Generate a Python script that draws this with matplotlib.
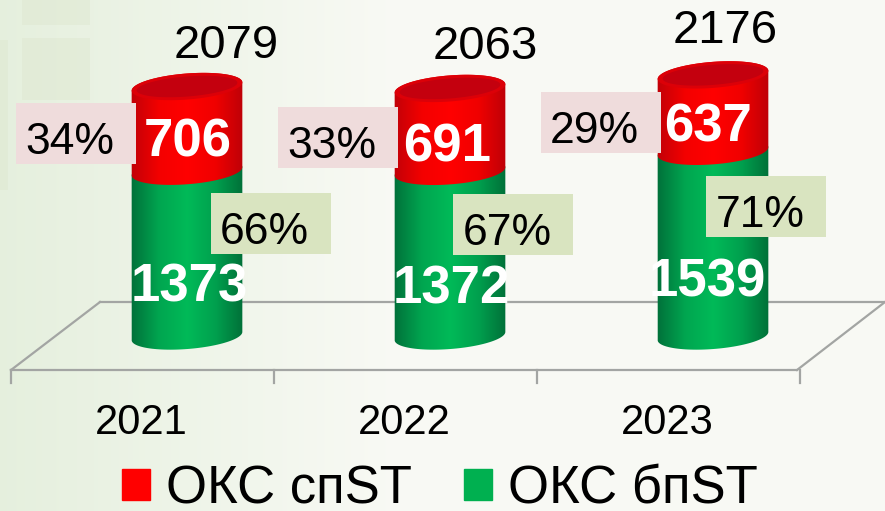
import numpy as np
import matplotlib
matplotlib.use('Agg')
import matplotlib.pyplot as plt
from matplotlib.patches import Polygon, Rectangle
from matplotlib.colors import LinearSegmentedColormap

years = ['2021', '2022', '2023']
st_elev = [706, 691, 637]
no_st_elev = [1373, 1372, 1539]
totals = [2079, 2063, 2176]
st_pct = ['34%', '33%', '29%']
no_st_pct = ['66%', '67%', '71%']

W = 885
H = 511
PX_PER_UNIT = 0.12
BASE_PX = 336
CENTER_0 = 187
STEP = 263

plt.rcParams['font.family'] = ['Liberation Sans Narrow', 'Liberation Sans', 'DejaVu Sans']

fig = plt.figure(figsize=(W / 100, H / 100), dpi=100)
ax = fig.add_axes([0, 0, 1, 1])

# x is the category position, y is the value, limits chosen so the image fits
ax.set_xlim(-CENTER_0 / STEP, (W - CENTER_0) / STEP)
ax.set_ylim((BASE_PX - H) / PX_PER_UNIT, BASE_PX / PX_PER_UNIT)
ax.axis('off')


def dx(px):
    return px / STEP


def dy(px):
    # px measured downwards on the screen
    return -px / PX_PER_UNIT


def gx(px):
    return (px - CENTER_0) / STEP


def gy(px):
    return (BASE_PX - px) / PX_PER_UNIT


# background
bg = np.zeros((40, 80, 3))
left = np.array([0.90, 0.94, 0.87])
right = np.array([0.975, 0.98, 0.96])
t = np.clip(np.linspace(0, 1, 80) / 0.45, 0, 1)
for c in range(3):
    bg[:, :, c] = left[c] + (right[c] - left[c]) * t
ax.imshow(bg, extent=[*ax.get_xlim(), *ax.get_ylim()], aspect='auto', zorder=0,
          interpolation='bicubic', origin='lower')
for x0, y0, x1, y1 in [(22, 0, 90, 25), (22, 38, 90, 100), (0, 40, 8, 190)]:
    ax.add_patch(Rectangle((gx(x0), gy(y1)), dx(x1 - x0), gy(y0) - gy(y1),
                           color='#dfe8d2', alpha=0.55, lw=0, zorder=0.5))

# floor of the chart
floor_color = '#a3a5a3'
front_y = gy(370)
back_y = gy(302)
ax.plot([gx(11), gx(797)], [front_y, front_y], color=floor_color, lw=1.6, zorder=1)
ax.plot([gx(100), gx(885)], [back_y, back_y], color=floor_color, lw=1.6, zorder=1)
ax.plot([gx(11), gx(100)], [front_y, back_y], color=floor_color, lw=1.6, zorder=1)
ax.plot([gx(797), gx(885)], [front_y, back_y], color=floor_color, lw=1.6, zorder=1)
for i in range(4):
    x = gx(11) + i
    ax.plot([x, x], [front_y, gy(383)], color=floor_color, lw=1.6, zorder=1)

green_cmap = LinearSegmentedColormap.from_list('g', ['#00713a', '#00a650', '#00ba58', '#00a04e', '#006f38'])
red_cmap = LinearSegmentedColormap.from_list('r', ['#c20008', '#f40000', '#ff0000', '#f00000', '#bd0008'])

HALF_W = 55.5
HALF_H = 13
TILT = np.radians(-4.5)


def ellipse(cx, v, half_w=HALF_W, half_h=HALF_H):
    a = np.linspace(0, 2 * np.pi, 120)
    px = half_w * np.cos(a)
    py = half_h * np.sin(a)
    xr = px * np.cos(TILT) - py * np.sin(TILT)
    yr = px * np.sin(TILT) + py * np.cos(TILT)
    return np.column_stack([cx + dx(xr), v + dy(yr)])


def segment(cx, v0, v1, cmap, z):
    e0 = ellipse(cx, v0)
    e1 = ellipse(cx, v1)
    # lower half of the bottom ellipse and upper half of the top one
    low = e0[e0[:, 1] <= v0 + dy(0) + 1e9]
    outline = np.vstack([e0[:60], e1[60:], e1[:1]])
    poly = Polygon(np.vstack([e0, e1]), closed=True, transform=ax.transData)
    hull = Polygon(outline, closed=True, facecolor='none', edgecolor='none', transform=ax.transData)
    ax.add_patch(hull)
    grad = np.linspace(0, 1, 128).reshape(1, -1)
    im = ax.imshow(grad, cmap=cmap, aspect='auto', zorder=z,
                   extent=[cx - dx(HALF_W + 1), cx + dx(HALF_W + 1), v0 + dy(20), v1 + dy(-20)])
    im.set_clip_path(hull)


lims = (ax.get_xlim(), ax.get_ylim())
for i in range(len(years)):
    segment(i, 0, no_st_elev[i], green_cmap, 2)
    segment(i, no_st_elev[i], totals[i], red_cmap, 3)
    ax.add_patch(Polygon(ellipse(i, totals[i]), closed=True, facecolor='#dc0008', lw=0, zorder=4))
    ax.add_patch(Polygon(ellipse(i, totals[i], HALF_W - 5, HALF_H - 3), closed=True,
                         facecolor='#c4000e', lw=0, zorder=4))
ax.set_xlim(lims[0])
ax.set_ylim(lims[1])

# label layout: offsets in pixels from the cylinder centre / segment middle
st_box_dx = [-111.5, -112, -112.5]
st_box_dy = [5, 8, 9]
no_st_box_dx = [83.5, 63, 53]
no_st_box_dy = [-30, -29, -37]
st_val_off = [(1, 14), (-3, 18), (-5, 14)]
no_st_val_off = [(2, 34), (1, 36), (-6, 39)]
total_off = [(39, -41), (35, -41), (12, -44)]
BOX_W = 120
BOX_H = 61

for i in range(len(years)):
    st_mid = no_st_elev[i] + st_elev[i] / 2
    no_st_mid = no_st_elev[i] / 2

    for bx, by, label, color in [
        (st_box_dx[i], st_box_dy[i], st_pct[i], '#efdcdc'),
        (no_st_box_dx[i], no_st_box_dy[i], no_st_pct[i], '#d9e4c0'),
    ]:
        mid = st_mid if color == '#efdcdc' else no_st_mid
        xc = i + dx(bx)
        yc = mid + dy(by)
        ax.add_patch(Rectangle((xc - dx(BOX_W / 2), yc + dy(BOX_H / 2)), dx(BOX_W),
                               -dy(BOX_H), facecolor=color, lw=0, zorder=5))
        ax.text(xc - dx(6), yc + dy(9), label, ha='center', va='center', fontsize=32, color='black', zorder=6)

    ax.text(i + dx(st_val_off[i][0]), st_mid + dy(st_val_off[i][1]), str(st_elev[i]), ha='center', va='center',
            fontsize=38, fontweight='bold', color='white', zorder=7)
    ax.text(i + dx(no_st_val_off[i][0]), no_st_mid + dy(no_st_val_off[i][1]), str(no_st_elev[i]), ha='center',
            va='center', fontsize=38, fontweight='bold', color='white', zorder=7)
    ax.text(i + dx(total_off[i][0]), totals[i] + dy(total_off[i][1]), str(totals[i]), ha='center', va='center',
            fontsize=34, color='black', zorder=7)
    ax.text(i + dx(-46), gy(423), years[i], ha='center', va='center', fontsize=30, color='black', zorder=7)

handles = [Rectangle((0, 0), 1, 1, color='#ff0000'), Rectangle((0, 0), 1, 1, color='#00b050')]
ax.legend(handles, ['ОКС спST', 'ОКС бпST'], ncol=2, frameon=False, fontsize=38,
          handlelength=0.53, handleheight=0.53, handletextpad=0.3, columnspacing=1.0,
          loc='center', bbox_to_anchor=(440 / W, 1 - 489 / H), borderpad=0, borderaxespad=0)

fig.savefig('out.png', dpi=100)
